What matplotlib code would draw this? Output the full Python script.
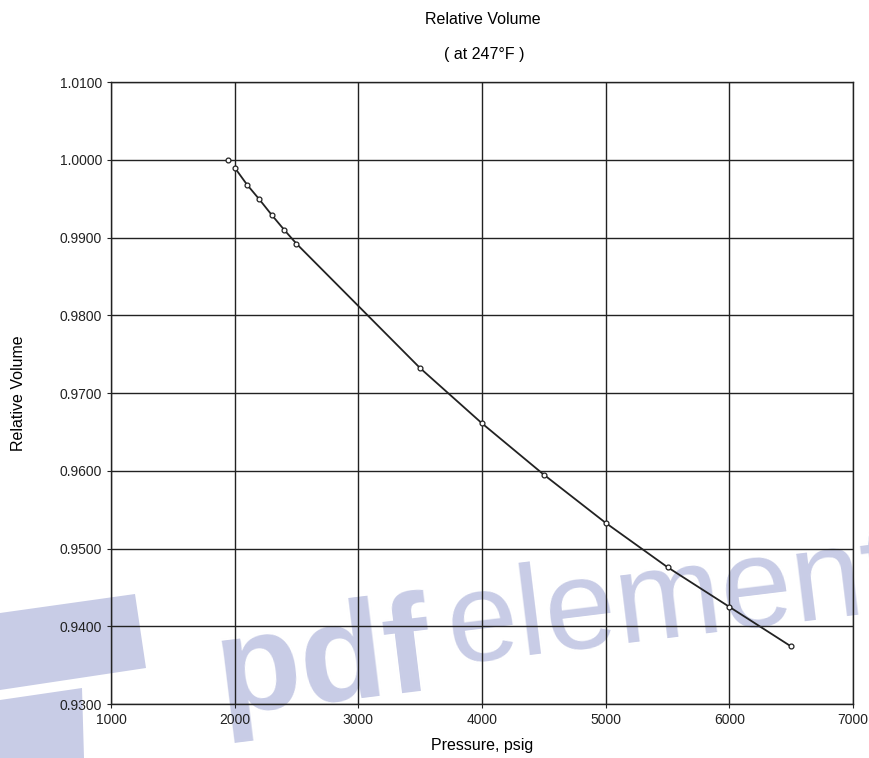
import matplotlib
matplotlib.use("Agg")
import matplotlib.pyplot as plt
from matplotlib.patches import Polygon
from matplotlib.ticker import FormatStrFormatter, MultipleLocator

plt.rcParams['font.family'] = ['Liberation Sans', 'DejaVu Sans']

# pressure (psig) and relative volume
pressure = [1950, 2000, 2100, 2200, 2300, 2400, 2500, 3500, 4000, 4500,
            5000, 5500, 6000, 6500]
rel_vol = [1.0000, 0.9990, 0.9968, 0.9949, 0.9929, 0.9910, 0.9892, 0.9732,
           0.9661, 0.9595, 0.9533, 0.9476, 0.9425, 0.9374]

W, H = 869, 758
fig = plt.figure(figsize=(W / 100, H / 100), dpi=100)
ax = fig.add_axes([0.1277, 0.0712, 0.8539, 0.8206])
ax.set_facecolor("none")

# watermark of the scanned page, kept behind the grid
wm = "#c8cce6"
def px(pts):
    return [(x / W, 1 - y / H) for x, y in pts]
for shape in ([(0, 613), (135, 594), (146, 668), (0, 690)],
              [(0, 700), (82, 688), (84, 758), (0, 758)]):
    ax.add_patch(Polygon(px(shape), closed=True, fc=wm, ec="none",
                         transform=fig.transFigure, clip_on=False, zorder=0.5))
ax.text(0.240, 0.058, "pdf", fontsize=100, fontweight="bold", color=wm,
        rotation=7, transform=fig.transFigure, clip_on=False, zorder=0.5)
ax.text(0.507, 0.124, "element", fontsize=92, color=wm,
        rotation=7, transform=fig.transFigure, clip_on=False, zorder=0.5)

# fitted line (starts at 2000) and the measured points
ax.plot(pressure[1:], rel_vol[1:], color="#222222", lw=1.3, zorder=3)
ax.plot(pressure, rel_vol, "o", ms=3.5, mfc="white", mec="#222222", mew=0.9, zorder=4)

ax.set_xlim(1000, 7000)
ax.set_ylim(0.93, 1.01)
ax.xaxis.set_major_locator(MultipleLocator(1000))
ax.yaxis.set_major_locator(MultipleLocator(0.01))
ax.yaxis.set_major_formatter(FormatStrFormatter("%.4f"))
ax.grid(True, color="#222222", lw=1.0)
ax.tick_params(direction="out", length=3, labelsize=10, colors="#222222")
for s in ax.spines.values():
    s.set_color("#222222")
    s.set_linewidth(1.0)

ax.set_xlabel("Pressure, psig", fontsize=11.5, labelpad=8)
ax.set_ylabel("Relative Volume", fontsize=11.5, labelpad=24)
fig.text(0.556, 0.974, "Relative Volume", ha="center", va="center", fontsize=11.5)
fig.text(0.557, 0.928, "( at 247°F )", ha="center", va="center", fontsize=11.5)

fig.savefig("out.png", dpi=100)
